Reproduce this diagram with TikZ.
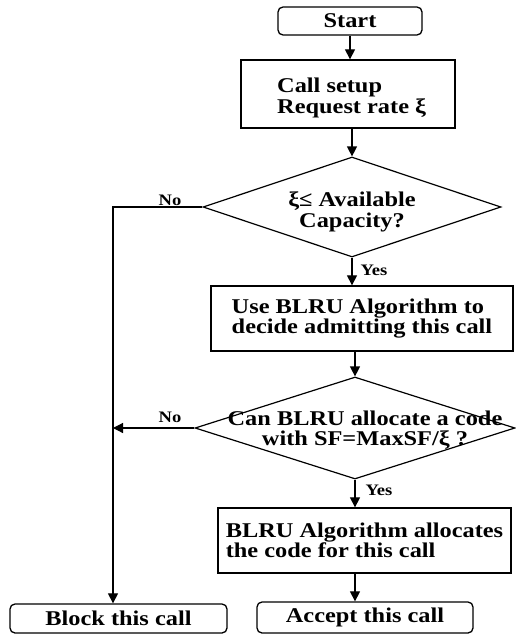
\documentclass[tikz,border=0pt]{standalone}
\usepackage{fontspec}
\setmainfont{Liberation Serif}[FakeStretch=1.16]
\usetikzlibrary{shapes.geometric,arrows.meta}
\begin{document}
\begin{tikzpicture}[x=1pt,y=-1pt,
  every node/.style={inner sep=0pt},
  flow/.style={line width=1.2pt},
  arr/.style={flow,-{Triangle[length=10pt,width=10pt]}},
  txt/.style={font=\bfseries\fontsize{21}{20.5}\selectfont},
  proc/.style={draw,line width=1.3pt},
  term/.style={proc,rounded corners=5pt,txt},
  decide/.style={draw,diamond,line width=1.2pt},
  tag/.style={font=\bfseries\fontsize{16}{16}\selectfont}]
\useasboundingbox (0,0) rectangle (516,637);

% process steps
\node[term,minimum width=144pt,minimum height=28pt] (start) at (350,21) {Start};
\node[proc,minimum width=214pt,minimum height=68pt] (setup) at (348,94) {};
\node[txt,align=left,anchor=west] (setuptxt) at (277,98) {Call setup\\Request rate ξ};
\node[decide,minimum width=298pt,minimum height=100pt] (cap) at (352,207) {};
\node[txt,align=center] (captxt) at (352,212) {ξ≤ Available\\Capacity?};
\node[proc,txt,align=left,minimum width=302pt,minimum height=65pt] (use) at (362,318.5) {Use BLRU Algorithm to\\decide admitting this call};
\node[decide,minimum width=320pt,minimum height=102pt] (alloc) at (355,428) {};
\node[txt,align=center] (alloctxt) at (365,430) {Can BLRU allocate a code\\with SF=MaxSF/ξ ?};
\node[proc,txt,align=left,minimum width=293pt,minimum height=65pt] (assign) at (364.5,540.5) {BLRU Algorithm allocates\\the code for this call};
\node[term,minimum width=216pt,minimum height=31pt] (accept) at (365,617.5) {Accept this call};
\node[term,minimum width=217pt,minimum height=29pt] (block) at (118.5,618.5) {Block this call};

% connectors
\coordinate (bend) at (113,207);
\draw[arr] (start.south) -- (start.south |- setup.north);
\draw[arr] (cap.north |- setup.south) -- (cap.north);
\draw[arr] (cap.south) -- (cap.south |- use.north);
\draw[arr] (alloc.north |- use.south) -- (alloc.north);
\draw[arr] (alloc.south) -- (alloc.south |- assign.north);
\draw[arr] (alloc.south |- assign.south) -- (alloc.south |- accept.north);
\draw[arr] (cap.west) -- (bend) -- (bend |- block.north);
\draw[arr] (alloc.west) -- (alloc.west -| bend);

% branch labels
\node[tag] (no1) at (170,200) {No};
\node[tag] (no2) at (170,417) {No};
\node[tag] (yes1) at (374,270) {Yes};
\node[tag] (yes2) at (379,490) {Yes};
\end{tikzpicture}
\end{document}
